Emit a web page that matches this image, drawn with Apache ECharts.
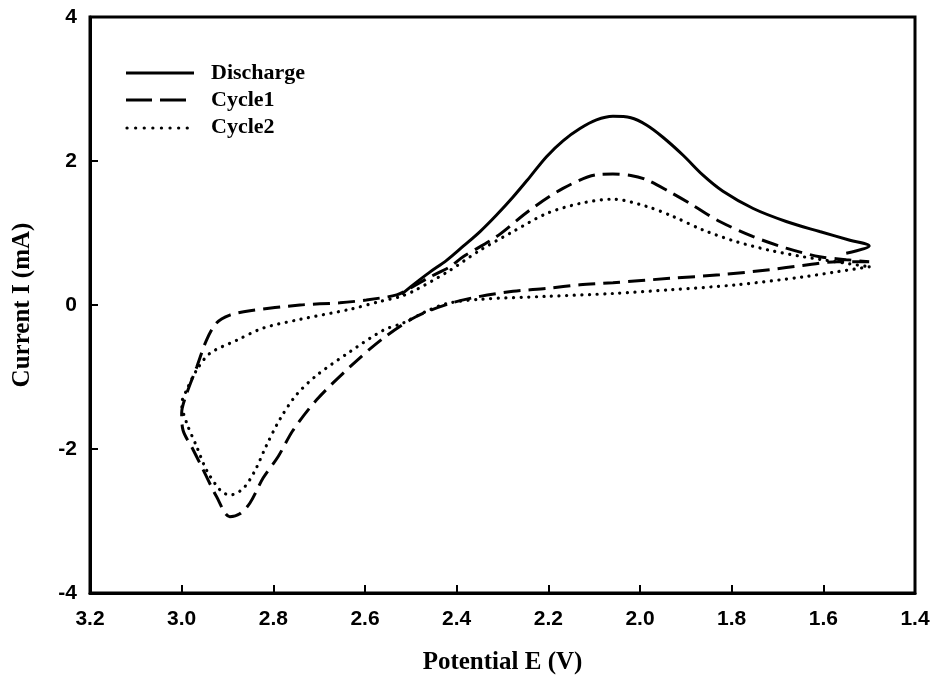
<!DOCTYPE html>
<html>
<head>
<meta charset="utf-8">
<script src="https://cdn.jsdelivr.net/npm/echarts@6/dist/echarts.min.js"></script>
<style>
html,body{margin:0;padding:0;background:#fff;}
#chart{width:932px;height:682px;}
</style>
</head>
<body>
<div id="chart"></div>
<script>
// Axis ticks
var xTicks = [3.2, 3.0, 2.8, 2.6, 2.4, 2.2, 2.0, 1.8, 1.6, 1.4];
var yTicks = [-4, -2, 0, 2, 4];

// Discharge (solid): potential E (V), current I (mA)
var dischargeE = [2.52, 2.495, 2.46, 2.422, 2.385, 2.349, 2.313, 2.277, 2.24, 2.204, 2.168, 2.131, 2.095, 2.059, 2.02, 1.986, 1.95, 1.906, 1.862, 1.819, 1.753, 1.681, 1.608, 1.542, 1.50, 1.55];
var dischargeI = [0.15, 0.28, 0.45, 0.62, 0.82, 1.02, 1.25, 1.50, 1.78, 2.06, 2.28, 2.45, 2.57, 2.62, 2.60, 2.50, 2.33, 2.08, 1.80, 1.58, 1.34, 1.16, 1.02, 0.90, 0.82, 0.72];

// Cycle1 (dashed) closed loop
var cycle1E = [1.50, 1.57, 1.645, 1.717, 1.826, 1.935, 2.059, 2.131, 2.204, 2.277, 2.349, 2.415, 2.488, 2.56, 2.633, 2.706, 2.757, 2.789, 2.822, 2.851, 2.873, 2.895, 2.924, 2.953, 2.975, 2.997, 3.0, 2.989, 2.967, 2.946, 2.924, 2.895, 2.851, 2.742, 2.655, 2.597, 2.531, 2.502, 2.458, 2.415, 2.386, 2.313, 2.24, 2.168, 2.095, 2.059, 2.02, 1.986, 1.935, 1.891, 1.826, 1.753, 1.681, 1.608, 1.55, 1.50];
var cycle1I = [0.60, 0.60, 0.55, 0.49, 0.42, 0.37, 0.31, 0.28, 0.23, 0.19, 0.12, 0.02, -0.16, -0.46, -0.86, -1.32, -1.74, -2.10, -2.40, -2.75, -2.90, -2.94, -2.66, -2.29, -2.01, -1.74, -1.50, -1.23, -0.86, -0.49, -0.25, -0.14, -0.08, 0.0, 0.03, 0.07, 0.14, 0.23, 0.39, 0.53, 0.67, 0.95, 1.32, 1.62, 1.81, 1.82, 1.80, 1.74, 1.57, 1.41, 1.16, 0.95, 0.79, 0.67, 0.63, 0.60];

// Cycle2 (dotted) closed loop
var cycle2E = [1.50, 1.572, 1.644, 1.79, 1.935, 2.059, 2.204, 2.349, 2.422, 2.47, 2.517, 2.56, 2.633, 2.706, 2.75, 2.785, 2.815, 2.84, 2.866, 2.895, 2.916, 2.946, 2.967, 2.989, 3.0, 2.989, 2.967, 2.938, 2.88, 2.822, 2.742, 2.633, 2.567, 2.524, 2.495, 2.42, 2.349, 2.277, 2.204, 2.131, 2.059, 1.986, 1.928, 1.862, 1.79, 1.717, 1.644, 1.572, 1.50];
var cycle2I = [0.53, 0.46, 0.39, 0.28, 0.21, 0.16, 0.12, 0.08, 0.02, -0.10, -0.25, -0.35, -0.65, -0.98, -1.25, -1.58, -1.95, -2.30, -2.55, -2.64, -2.57, -2.29, -1.97, -1.64, -1.37, -1.18, -0.90, -0.67, -0.49, -0.32, -0.20, -0.06, 0.05, 0.115, 0.19, 0.46, 0.76, 1.02, 1.27, 1.41, 1.47, 1.37, 1.23, 1.04, 0.88, 0.76, 0.67, 0.60, 0.53];

function pairs(xs, ys) { return xs.map(function (x, i) { return [x, ys[i]]; }); }

var chart = echarts.init(document.getElementById('chart'), null, {renderer: 'canvas'});
var sans = 'Liberation Sans, Arial, sans-serif';
var serif = 'Liberation Serif, Times New Roman, serif';

chart.setOption({
  animation: false,
  backgroundColor: '#fff',
  grid: {left: 90, right: 17, top: 17, bottom: 89, containLabel: false, outerBoundsMode: 'none',
    show: true, borderColor: '#000', borderWidth: 3, backgroundColor: 'transparent'},
  xAxis: {
    type: 'value', inverse: true, min: 1.4, max: 3.2, interval: 0.2,
    name: 'Potential E (V)', nameLocation: 'middle', nameGap: 57,
    nameTextStyle: {fontFamily: serif, fontWeight: 'bold', fontSize: 25, color: '#000'},
    axisLine: {show: true, onZero: false, lineStyle: {color: '#000', width: 3}},
    axisTick: {show: true, inside: true, length: 8, lineStyle: {color: '#000', width: 2}},
    axisLabel: {margin: 16, fontFamily: sans, fontWeight: 'bold', fontSize: 21, color: '#000',
      formatter: function (v) { return (Math.round(v * 10) / 10).toFixed(1); }},
    splitLine: {show: false}
  },
  yAxis: {
    type: 'value', min: -4, max: 4, interval: 2,
    name: 'Current I (mA)', nameLocation: 'middle', nameGap: 55,
    nameTextStyle: {fontFamily: serif, fontWeight: 'bold', fontSize: 25, color: '#000'},
    axisLine: {show: true, onZero: false, lineStyle: {color: '#000', width: 3}},
    axisTick: {show: true, inside: true, length: 8, lineStyle: {color: '#000', width: 2}},
    axisLabel: {margin: 13, fontFamily: sans, fontWeight: 'bold', fontSize: 21, color: '#000'},
    splitLine: {show: false}
  },
  series: [
    {name: 'Discharge', type: 'line', data: pairs(dischargeE, dischargeI), showSymbol: false, smooth: 0.35,
      lineStyle: {color: '#000', width: 3, type: 'solid'}},
    {name: 'Cycle1', type: 'line', data: pairs(cycle1E, cycle1I), showSymbol: false, smooth: 0.3,
      lineStyle: {color: '#000', width: 3, type: [17, 8]}},
    {name: 'Cycle2', type: 'line', data: pairs(cycle2E, cycle2I), showSymbol: false, smooth: 0.3,
      lineStyle: {color: '#000', width: 3.2, type: [0.1, 7.5], cap: 'round'}}
  ],
  graphic: [
    {type: 'line', shape: {x1: 126, y1: 73, x2: 194, y2: 73}, style: {stroke: '#000', lineWidth: 3}},
    {type: 'line', shape: {x1: 126, y1: 100, x2: 186, y2: 100}, style: {stroke: '#000', lineWidth: 3, lineDash: [26, 8]}},
    {type: 'line', shape: {x1: 127, y1: 128, x2: 190, y2: 128}, style: {stroke: '#000', lineWidth: 3.2, lineDash: [0.1, 8.5], lineCap: 'round'}},
    {type: 'text', left: 211, top: 62, style: {text: 'Discharge', font: 'bold 22px ' + serif, fill: '#000'}},
    {type: 'text', left: 211, top: 89, style: {text: 'Cycle1', font: 'bold 22px ' + serif, fill: '#000'}},
    {type: 'text', left: 211, top: 116, style: {text: 'Cycle2', font: 'bold 22px ' + serif, fill: '#000'}}
  ]
});
</script>
</body>
</html>
